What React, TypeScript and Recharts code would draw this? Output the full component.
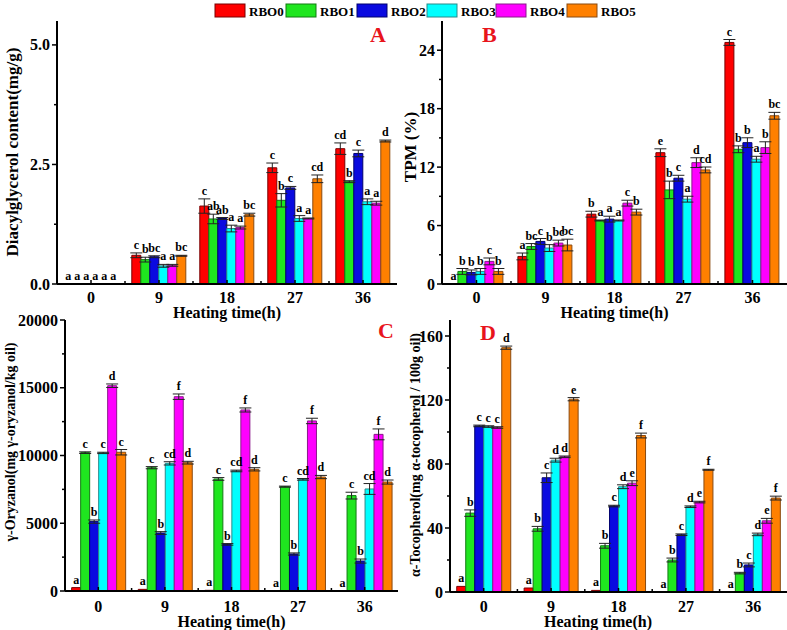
import React from "react";
import { BarChart, Bar, XAxis, YAxis, ErrorBar, LabelList, Label } from "recharts";

const heatingTimes = ["0", "9", "18", "27", "36"];
const oils = ["RBO0", "RBO1", "RBO2", "RBO3", "RBO4", "RBO5"];
const oilColors = ["#ff0000", "#1fe61f", "#0a0ae0", "#00ffff", "#ff00ff", "#ff8000"];
const oilEdges = ["#7a0000", "#137a13", "#00006e", "#2a8a8a", "#8a1a8a", "#8a4a10"];

// A: diacylglycerol (mg/g), one row per oil across heating times
const dagMean = [
  [0.01, 0.6, 1.63, 2.43, 2.83],
  [0.01, 0.51, 1.36, 1.75, 2.14],
  [0.01, 0.57, 1.37, 2.01, 2.73],
  [0.01, 0.38, 1.16, 1.37, 1.72],
  [0.01, 0.39, 1.18, 1.37, 1.69],
  [0.01, 0.59, 1.45, 2.2, 2.99],
];
const dagErr = [
  [0, 0.05, 0.15, 0.1, 0.12],
  [0, 0.05, 0.1, 0.14, 0.02],
  [0, 0.02, 0.02, 0.03, 0.07],
  [0, 0.03, 0.07, 0.06, 0.06],
  [0, 0.02, 0.03, 0.01, 0.04],
  [0, 0.01, 0.03, 0.08, 0.02],
];
const dagLetters = [
  ["a", "c", "c", "c", "cd"],
  ["a", "b", "ab", "b", "b"],
  ["a", "bc", "ab", "c", "c"],
  ["a", "a", "a", "a", "a"],
  ["a", "a", "a", "a", "a"],
  ["a", "bc", "bc", "cd", "d"],
];

// B: total polar material (%)
const tpmMean = [
  [0.05, 2.83, 7.17, 13.48, 24.8],
  [1.29, 3.85, 6.52, 9.66, 13.83],
  [1.19, 4.37, 6.66, 10.86, 14.51],
  [1.29, 3.69, 6.52, 8.71, 12.81],
  [2.32, 4.2, 8.3, 12.46, 14.0],
  [1.29, 4.0, 7.38, 11.71, 17.27],
];
const tpmErr = [
  [0, 0.35, 0.3, 0.4, 0.3],
  [0.3, 0.3, 0.05, 0.9, 0.35],
  [0.25, 0.3, 0.3, 0.3, 0.5],
  [0.3, 0.35, 0.05, 0.3, 0.3],
  [0.35, 0.3, 0.3, 0.5, 0.6],
  [0.3, 0.6, 0.3, 0.3, 0.35],
];
const tpmLetters = [
  ["a", "a", "b", "e", "c"],
  ["b", "bc", "a", "b", "b"],
  ["b", "c", "a", "c", "b"],
  ["b", "b", "a", "a", "a"],
  ["c", "bc", "c", "d", "b"],
  ["b", "bc", "b", "cd", "bc"],
];

// C: gamma-oryzanol (mg/kg oil)
const oryzanolMean = [
  [250, 120, 50, 25, 15],
  [10210, 9100, 8270, 7700, 7040],
  [5120, 4280, 3440, 2730, 2210],
  [10190, 9420, 8860, 8240, 7530],
  [15150, 14340, 13360, 12550, 11560],
  [10240, 9470, 8980, 8410, 8040],
];
const oryzanolErr = [
  [0, 0, 0, 0, 0],
  [60, 80, 100, 40, 250],
  [120, 100, 60, 80, 150],
  [50, 120, 60, 60, 400],
  [130, 200, 150, 200, 400],
  [200, 100, 120, 120, 150],
];
const oryzanolLetters = [
  ["a", "a", "a", "a", "a"],
  ["c", "c", "c", "c", "c"],
  ["b", "b", "b", "b", "b"],
  ["c", "cd", "cd", "cd", "cd"],
  ["d", "f", "f", "f", "f"],
  ["c", "d", "d", "d", "d"],
];

// D: alpha-tocopherol (mg/100g oil)
const tocoMean = [
  [3.5, 2.5, 1, 0.2, 0.1],
  [49.3, 39.5, 28.9, 20, 11.8],
  [103.8, 71.4, 53.7, 35.8, 16.9],
  [103.4, 82.4, 65.8, 53.3, 36],
  [102.8, 84.5, 68, 56.2, 44.5],
  [152.7, 120.5, 97.8, 76.4, 58.7],
];
const tocoErr = [
  [0, 0, 0, 0, 0],
  [2, 1.5, 1.5, 1.2, 0.5],
  [0.5, 3, 0.5, 0.5, 1.2],
  [0.5, 1.2, 1.2, 0.5, 0.8],
  [0.5, 0.5, 1.5, 0.5, 1.5],
  [1, 1, 1.5, 0.3, 1.2],
];
const tocoLetters = [
  ["a", "a", "a", "a", "a"],
  ["b", "b", "b", "b", "b"],
  ["c", "c", "c", "c", "c"],
  ["c", "d", "d", "d", "d"],
  ["c", "d", "e", "e", "e"],
  ["d", "e", "f", "f", "f"],
];

const FONT = "'Liberation Serif', 'Times New Roman', serif";

function buildRows(mean: number[][], err: number[][], letters: string[][]) {
  return heatingTimes.map((t, i) => {
    const row: any = { time: t };
    oils.forEach((o, k) => {
      row[o] = mean[k][i];
      row[o + "_err"] = err[k][i];
      row[o + "_lbl"] = letters[k][i];
    });
    return row;
  });
}

type PanelProps = {
  mean: number[][];
  err: number[][];
  letters: string[][];
  left: number;
  top: number;
  width: number;
  height: number;
  axisW: number;
  marginTop: number;
  marginRight: number;
  xAxisH: number;
  yMax: number;
  ticks: number[];
  majorStep: number;
  digits: number;
  yLabel: string;
  yLabelX: number;
  yLabelY: number;
  yLabelSize: number;
  xLabelX?: number;
  xLabelY: number;
  tickY: number;
};

function Panel(p: PanelProps) {
  const data = buildRows(p.mean, p.err, p.letters);
  const plotBottom = p.height - p.xAxisH;
  const pxPerUnit = (plotBottom - p.marginTop) / p.yMax;
  const band = (p.width - p.axisW - p.marginRight) / heatingTimes.length;
  const xLabelX = p.xLabelX ?? p.axisW + (p.width - p.axisW - p.marginRight) / 2;

  const yTick = (props: any) => {
    const v = props.payload.value;
    const y = props.y;
    const major = Math.abs(v / p.majorStep - Math.round(v / p.majorStep)) < 1e-6;
    return (
      <g>
        <line x1={p.axisW} x2={p.axisW - (major ? 5 : 3)} y1={y} y2={y} stroke="#000" strokeWidth={1.5} />
        {major && (
          <text x={p.axisW - 7} y={y} textAnchor="end" dominantBaseline="central"
            fontFamily={FONT} fontWeight="bold" fontSize={16} fill="#000">
            {v.toFixed(p.digits)}
          </text>
        )}
      </g>
    );
  };

  const xTick = (props: any) => {
    const x = props.x;
    return (
      <g>
        <line x1={x} x2={x} y1={plotBottom} y2={plotBottom - 4} stroke="#000" strokeWidth={1.5} />
        {props.index < heatingTimes.length - 1 && (
          <line x1={x + band / 2} x2={x + band / 2} y1={plotBottom} y2={plotBottom - 3} stroke="#000" strokeWidth={1.5} />
        )}
        <text x={x} y={plotBottom + p.tickY} textAnchor="middle" dominantBaseline="central"
          fontFamily={FONT} fontWeight="bold" fontSize={16} fill="#000">
          {props.payload.value}
        </text>
      </g>
    );
  };

  return (
    <div style={{ position: "absolute", left: p.left, top: p.top }}>
      <BarChart
        width={p.width}
        height={p.height}
        data={data}
        margin={{ top: p.marginTop, right: p.marginRight, left: 0, bottom: 0 }}
        barGap={0}
        barCategoryGap="10%"
      >
        <XAxis dataKey="time" height={p.xAxisH} interval={0} tickLine={false}
          axisLine={{ stroke: "#000", strokeWidth: 2 }} tick={xTick}>
          <Label
            content={() => (
              <text x={xLabelX} y={p.xLabelY} textAnchor="middle" dominantBaseline="central"
                fontFamily={FONT} fontWeight="bold" fontSize={16} fill="#000">
                Heating time(h)
              </text>
            )}
          />
        </XAxis>
        <YAxis type="number" width={p.axisW} domain={[0, p.yMax]} ticks={p.ticks} interval={0}
          allowDataOverflow tickLine={false} axisLine={{ stroke: "#000", strokeWidth: 2 }} tick={yTick}>
          <Label
            content={() => (
              <text transform={`translate(${p.yLabelX},${p.yLabelY}) rotate(-90)`} textAnchor="middle"
                dominantBaseline="central" fontFamily={FONT} fontWeight="bold" fontSize={p.yLabelSize} fill="#000">
                {p.yLabel}
              </text>
            )}
          />
        </YAxis>
        {oils.map((o, k) => (
          <Bar key={o} dataKey={o} fill={oilColors[k]} stroke={oilEdges[k]} strokeWidth={1} isAnimationActive={false}>
            <ErrorBar dataKey={o + "_err"} width={6} stroke="#222" strokeWidth={1} direction="y" />
            <LabelList
              dataKey={o + "_lbl"}
              content={(lp: any) => {
                const vb = lp.viewBox || lp;
                const x = (vb.x ?? lp.x) + (vb.width ?? lp.width) / 2;
                const y = vb.y ?? lp.y;
                const e = data[lp.index] ? data[lp.index][o + "_err"] * pxPerUnit : 0;
                return (
                  <text x={x} y={y - e - 4} textAnchor="middle" fontFamily={FONT} fontWeight="bold"
                    fontSize={12} fill="#000">
                    {lp.value}
                  </text>
                );
              }}
            />
          </Bar>
        ))}
      </BarChart>
    </div>
  );
}

const legendX = [215, 286, 357, 427, 496, 567];

export default function App() {
  return (
    <div style={{ position: "absolute", left: 0, top: 0, width: 787, height: 630, background: "#fff", fontFamily: FONT }}>
      <Panel mean={dagMean} err={dagErr} letters={dagLetters}
        left={0} top={0} width={400} height={322} axisW={57} marginTop={21} marginRight={3} xAxisH={38}
        yMax={5.5} ticks={[0, 1.25, 2.5, 3.75, 5]} majorStep={2.5} digits={1}
        yLabel="Diacylglycerol content(mg/g)" yLabelX={12} yLabelY={152} yLabelSize={17}
        xLabelY={312} tickY={13} />
      <Panel mean={tpmMean} err={tpmErr} letters={tpmLetters}
        left={390} top={0} width={397} height={322} axisW={52} marginTop={21} marginRight={0} xAxisH={38}
        yMax={27} ticks={[0, 3, 6, 9, 12, 15, 18, 21, 24]} majorStep={6} digits={0}
        yLabel="TPM (%)" yLabelX={20} yLabelY={147} yLabelSize={17}
        xLabelY={312} tickY={13} />
      <Panel mean={oryzanolMean} err={oryzanolErr} letters={oryzanolLetters}
        left={0} top={305} width={400} height={325} axisW={65} marginTop={15} marginRight={2} xAxisH={39}
        yMax={20000} ticks={[0, 2500, 5000, 7500, 10000, 12500, 15000, 17500, 20000]} majorStep={5000} digits={0}
        yLabel="γ-Oryzanol(mg γ-oryzanol/kg oil)" yLabelX={10} yLabelY={137} yLabelSize={14}
        xLabelY={316} tickY={15} />
      <Panel mean={tocoMean} err={tocoErr} letters={tocoLetters}
        left={380} top={305} width={407} height={325} axisW={70} marginTop={15} marginRight={0} xAxisH={38}
        yMax={170} ticks={[0, 20, 40, 60, 80, 100, 120, 140, 160]} majorStep={40} digits={0}
        yLabel="α-Tocopherol(mg α-tocopherol / 100g oil)" yLabelX={35} yLabelY={150} yLabelSize={14}
        xLabelX={218} xLabelY={316} tickY={14} />
      <svg width={787} height={630} style={{ position: "absolute", left: 0, top: 0, pointerEvents: "none" }}>
        {oils.map((o, k) => (
          <g key={o}>
            <rect x={legendX[k]} y={4} width={30} height={13} fill={oilColors[k]} stroke={oilEdges[k]} strokeWidth={1} />
            <text x={legendX[k] + 34} y={16} fontFamily={FONT} fontWeight="bold" fontSize={13} fill="#000">
              {o}
            </text>
          </g>
        ))}
        <g fontFamily={FONT} fontWeight="bold" fontSize={22} fill="#e8141c">
          <text x={370} y={42}>A</text>
          <text x={482} y={42}>B</text>
          <text x={378} y={338}>C</text>
          <text x={480} y={340}>D</text>
        </g>
      </svg>
    </div>
  );
}
